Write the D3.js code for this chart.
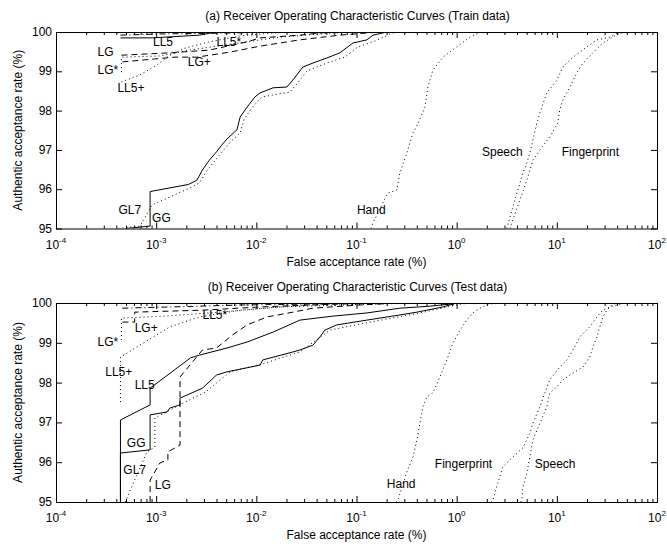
<!DOCTYPE html>
<html>
<head>
<meta charset="utf-8">
<script src="https://cdn.jsdelivr.net/npm/d3@7"></script>
<style>
body { margin: 0; background: #fff; }
svg { display: block; font-family: "Liberation Sans", Arial, Helvetica, sans-serif; }
</style>
</head>
<body>
<svg id="chart" width="667" height="547"></svg>
<script>

// axis ticks
var xTicks = [1e-4, 1e-3, 1e-2, 1e-1, 1, 10, 100];
var yTicks = [95, 96, 97, 98, 99, 100];

// (a) train data, [false acceptance %, authentic acceptance %]
var trainLG = [[4.5e-4,99.41],[1.37e-3,99.47],[3.4e-3,99.54],[8.1e-3,99.75],[0.0109,99.85],[0.0272,99.92],[0.0543,100]];
var trainLGstar = [[4.5e-4,98.98],[4.5e-4,99.36],[1.09e-3,99.39],[2.17e-3,99.54],[5.5e-3,99.69],[0.0172,99.87],[0.0543,99.97],[0.108,100]];
var trainLGplus = [[4.6e-4,99.24],[1.54e-3,99.36],[2.55e-3,99.36],[5.5e-3,99.49],[0.0109,99.64],[0.0272,99.80],[0.0682,99.92],[0.171,100]];
var trainLL5 = [[4.4e-4,99.85],[9.1e-4,99.85],[2.7e-3,99.92],[4.0e-3,100]];
var trainLL5plus = [[4.5e-4,98.73],[6.9e-4,98.91],[1.02e-3,99.16],[1.37e-3,99.41],[1.94e-3,99.59],[3.4e-3,99.75],[6.9e-3,99.90],[0.0137,99.97],[0.0216,100]];
var trainLL5star = [[4.4e-4,99.92],[1.09e-3,99.95],[4.3e-3,99.97],[0.0172,100]];
var trainGG = [[4.9e-4,95.0],[8.7e-4,95.06],[8.7e-4,95.94],[2.1e-3,96.12],[2.55e-3,96.23],[2.9e-3,96.49],[3.4e-3,96.74],[4.0e-3,96.95],[4.5e-3,97.12],[5.1e-3,97.28],[6.4e-3,97.51],[6.9e-3,97.84],[8.1e-3,98.09],[9.7e-3,98.35],[0.0109,98.45],[0.0147,98.58],[0.0202,98.60],[0.0232,98.78],[0.0292,99.11],[0.0367,99.21],[0.0507,99.34],[0.0682,99.47],[0.092,99.72],[0.127,99.80],[0.146,99.92],[0.201,100]];
var trainGL7 = [[4.2e-4,95.0],[6.9e-4,95.06],[9.1e-4,95.6],[2.17e-3,96.03],[2.7e-3,96.16],[3.1e-3,96.41],[3.7e-3,96.67],[4.3e-3,96.87],[5.5e-3,97.20],[6.9e-3,97.43],[7.5e-3,97.76],[9.0e-3,98.07],[0.0114,98.35],[0.0216,98.47],[0.0254,98.68],[0.032,99.01],[0.0543,99.24],[0.0766,99.36],[0.103,99.62],[0.153,99.77],[0.225,99.97],[0.271,100]];
var trainHand = [[0.139,95.0],[0.146,95.14],[0.183,95.65],[0.206,95.90],[0.253,95.98],[0.271,96.41],[0.318,96.92],[0.366,97.43],[0.41,97.66],[0.482,98.09],[0.516,98.60],[0.579,99.03],[0.728,99.36],[1.0,99.62],[1.36,99.87],[1.71,100]];
var trainSpeech = [[3.17,95.0],[3.64,95.55],[4.58,96.41],[5.02,96.67],[5.38,96.92],[5.77,97.25],[6.32,97.68],[6.77,97.94],[7.94,98.45],[10.0,98.78],[11.5,99.11],[14.5,99.36],[19.9,99.62],[25.1,99.80],[33.8,99.87],[39.7,99.97],[47.8,100]];
var trainFinger = [[3.40,95.0],[4.28,95.73],[5.02,96.23],[5.77,96.74],[6.77,97.0],[8.51,97.33],[10.2,97.68],[10.7,98.02],[11.5,98.27],[13.5,98.60],[15.8,98.96],[18.2,99.21],[22.9,99.47],[28.8,99.72],[36.2,99.87],[42.6,99.97],[53.6,100]];

// (b) test data
var testLG = [[8.7e-4,95.0],[8.7e-4,95.55],[1.09e-3,95.98],[1.31e-3,96.06],[1.31e-3,96.26],[1.73e-3,96.43],[1.73e-3,98.14],[2.9e-3,98.82],[4.0e-3,98.87],[5.8e-3,99.20],[8.1e-3,99.45],[0.0128,99.65],[0.0232,99.77],[0.0367,99.87],[0.108,99.95],[0.271,100]];
var testLGstar = [[4.5e-4,99.07],[4.5e-4,99.62],[1.22e-3,99.67],[4.3e-3,99.77],[0.0172,99.90],[0.0682,99.95],[0.43,100]];
var testLGplus = [[4.6e-4,99.52],[6.1e-4,99.52],[6.1e-4,99.77],[2.9e-3,99.82],[0.0109,99.90],[0.0543,99.97],[0.171,100]];
var testLL5 = [[4.4e-4,95.0],[4.4e-4,97.06],[8.7e-4,97.44],[8.7e-4,97.86],[2.2e-3,98.62],[2.7e-3,98.69],[5.1e-3,98.87],[8.1e-3,99.02],[0.0147,99.27],[0.0272,99.57],[0.0581,99.67],[0.127,99.75],[0.271,99.87],[0.541,99.92],[1.08,100]];
var testLL5plus = [[4.4e-4,97.51],[4.4e-4,98.64],[7.4e-4,98.99],[1.37e-3,99.40],[2.7e-3,99.65],[6.9e-3,99.82],[0.0216,99.92],[0.0543,99.97],[0.171,100]];
var testLL5star = [[4.6e-4,99.87],[2.7e-3,99.92],[6.9e-3,99.95],[0.0272,99.97],[0.0682,100]];
var testGG = [[4.4e-4,95.0],[4.4e-4,96.23],[8.7e-4,96.31],[8.7e-4,97.19],[1.28e-3,97.26],[1.37e-3,97.36],[1.73e-3,97.44],[1.73e-3,97.61],[2.9e-3,97.86],[4.0e-3,98.19],[5.1e-3,98.27],[0.0109,98.44],[0.0116,98.57],[0.0232,98.77],[0.0272,98.82],[0.0367,98.94],[0.0432,99.15],[0.0484,99.32],[0.0637,99.45],[0.127,99.57],[0.271,99.70],[0.401,99.77],[0.728,99.90],[1.0,100]];
var testGL7 = [[4.9e-4,95.0],[6.1e-4,95.55],[8.1e-4,96.26],[9.7e-4,96.38],[9.7e-4,97.11],[1.94e-3,97.51],[3.1e-3,97.76],[5.5e-3,98.27],[0.0122,98.49],[0.0272,98.77],[0.0543,99.32],[0.136,99.52],[0.43,99.75],[1.08,99.97],[1.36,100]];
var testHand = [[0.247,95.0],[0.259,95.05],[0.318,95.75],[0.366,96.13],[0.401,96.56],[0.43,96.98],[0.46,97.39],[0.505,97.64],[0.578,97.74],[0.679,98.14],[0.798,98.57],[0.916,98.99],[1.08,99.32],[1.26,99.57],[1.45,99.75],[1.71,99.87],[2.0,99.95],[2.4,100]];
var testFinger = [[2.19,95.0],[2.30,95.05],[2.58,95.48],[2.89,95.88],[3.64,96.13],[4.58,96.36],[5.38,96.73],[5.77,96.98],[6.77,97.39],[7.59,97.74],[8.51,98.07],[10.7,98.39],[12.6,98.57],[14.5,98.82],[17.0,99.15],[21.3,99.40],[25.1,99.65],[28.8,99.82],[33.8,99.90],[39.7,99.95],[47.8,100]];
var testSpeech = [[4.38,95.0],[4.48,95.05],[4.58,95.38],[5.02,95.73],[5.38,96.13],[5.77,96.56],[6.77,96.98],[7.94,97.39],[8.51,97.74],[10.0,97.89],[11.5,98.07],[14.5,98.24],[18.2,98.39],[21.3,98.64],[22.9,98.89],[25.1,99.15],[26.9,99.40],[28.8,99.65],[31.6,99.82],[35.4,99.95],[39.7,100]];

// curve labels, placed at data coordinates
var trainLabels = [["LG",2.6e-4,99.39],["LG*",2.6e-4,98.93],["LL5+",4.1e-4,98.47],["LL5",9.3e-4,99.64],["LL5*",4.0e-3,99.64],
    ["LG+",2.07e-3,99.13],["GL7",4.2e-4,95.37],["GG",9.1e-4,95.17],["Hand",0.101,95.37],["Speech",1.79,96.84],["Fingerprint",11.2,96.84]];
var testLabels = [["LG*",2.6e-4,98.92],["LG+",6.1e-4,99.27],["LL5*",2.9e-3,99.60],["LL5+",3.1e-4,98.17],["LL5",6.1e-4,97.84],
    ["GG",5.1e-4,96.38],["GL7",4.7e-4,95.70],["LG",9.7e-4,95.33],["Hand",0.201,95.35],["Fingerprint",0.605,95.85],["Speech",6.03,95.85]];

var dashes = { solid: null, dotted: "1,3", dashed: "6,4", dashdot: "6,3,1,3" };

var svg = d3.select("#chart");
var left = 56, right = 657;
var x = d3.scaleLog().domain([1e-4, 1e2]).range([left, right]);

var minorTicks = [];
xTicks.slice(0, -1).forEach(function(t) {
    for (var k = 2; k < 10; k++) minorTicks.push(t * k);
});

function drawPanel(id, top, bottom, title, curves, labels) {
    var y = d3.scaleLinear().domain([95, 100]).range([bottom, top]);
    var g = svg.append("g");

    g.append("clipPath").attr("id", id)
        .append("rect")
            .attr("x", left).attr("y", top)
            .attr("width", right - left).attr("height", bottom - top);

    var line = d3.line()
        .x(function(d) { return x(d[0]); })
        .y(function(d) { return y(d[1]); });

    g.append("g").attr("clip-path", "url(#" + id + ")")
        .selectAll("path").data(curves).enter().append("path")
            .attr("d", function(d) { return line(d.values); })
            .attr("fill", "none")
            .attr("stroke", "#000")
            .attr("stroke-width", 1)
            .attr("stroke-dasharray", function(d) { return dashes[d.style]; });

    // ticks on all four sides, pointing inwards
    function ticks(axis, tr) {
        g.append("g").attr("transform", tr).call(axis)
            .call(function(s) { s.select(".domain").remove(); s.selectAll("text").remove(); })
            .selectAll("line").attr("stroke", "#000");
    }
    ticks(d3.axisBottom(x).tickValues(xTicks).tickSize(-6), "translate(0," + bottom + ")");
    ticks(d3.axisBottom(x).tickValues(minorTicks).tickSize(-3), "translate(0," + bottom + ")");
    ticks(d3.axisTop(x).tickValues(xTicks).tickSize(-6), "translate(0," + top + ")");
    ticks(d3.axisTop(x).tickValues(minorTicks).tickSize(-3), "translate(0," + top + ")");
    ticks(d3.axisLeft(y).tickValues(yTicks).tickSize(-6), "translate(" + left + ",0)");
    ticks(d3.axisRight(y).tickValues(yTicks).tickSize(-6), "translate(" + right + ",0)");

    g.append("rect")
        .attr("x", left + 0.5).attr("y", top + 0.5)
        .attr("width", right - left).attr("height", bottom - top)
        .attr("fill", "none").attr("stroke", "#000");

    // tick labels
    var xl = g.append("g").selectAll("text").data(xTicks).enter().append("text")
        .attr("x", function(d) { return x(d); })
        .attr("y", bottom + 20)
        .attr("text-anchor", "middle")
        .attr("font-size", 12);
    xl.append("tspan").text("10");
    xl.append("tspan").attr("dy", -6).attr("font-size", 8)
        .text(function(d) { return Math.round(Math.log10(d)); });

    g.append("g").selectAll("text").data(yTicks).enter().append("text")
        .attr("x", left - 4)
        .attr("y", function(d) { return y(d) + 4; })
        .attr("text-anchor", "end")
        .attr("font-size", 12)
        .text(function(d) { return d; });

    g.append("text")
        .attr("x", (left + right) / 2 + 1).attr("y", top - 12)
        .attr("text-anchor", "middle").attr("font-size", 12)
        .text(title);
    g.append("text")
        .attr("x", (left + right) / 2).attr("y", bottom + 37)
        .attr("text-anchor", "middle").attr("font-size", 12)
        .text("False acceptance rate (%)");
    g.append("text")
        .attr("transform", "translate(22," + (top + bottom) / 2 + ") rotate(-90)")
        .attr("text-anchor", "middle").attr("font-size", 12)
        .text("Authentic acceptance rate (%)");

    g.append("g").selectAll("text").data(labels).enter().append("text")
        .attr("x", function(d) { return x(d[1]); })
        .attr("y", function(d) { return y(d[2]); })
        .attr("font-size", 12)
        .text(function(d) { return d[0]; });
}

drawPanel("clipA", 32, 228.5, "(a) Receiver Operating Characteristic Curves (Train data)", [
    { values: trainLG, style: "dashed" },
    { values: trainLGstar, style: "dotted" },
    { values: trainLGplus, style: "dashed" },
    { values: trainLL5, style: "solid" },
    { values: trainLL5plus, style: "dotted" },
    { values: trainLL5star, style: "dashdot" },
    { values: trainGG, style: "solid" },
    { values: trainGL7, style: "dotted" },
    { values: trainHand, style: "dotted" },
    { values: trainSpeech, style: "dotted" },
    { values: trainFinger, style: "dotted" }
], trainLabels);

drawPanel("clipB", 303, 502, "(b) Receiver Operating Characteristic Curves (Test data)", [
    { values: testLG, style: "dashed" },
    { values: testLGstar, style: "dotted" },
    { values: testLGplus, style: "dashed" },
    { values: testLL5, style: "solid" },
    { values: testLL5plus, style: "dotted" },
    { values: testLL5star, style: "dashdot" },
    { values: testGG, style: "solid" },
    { values: testGL7, style: "dotted" },
    { values: testHand, style: "dotted" },
    { values: testSpeech, style: "dotted" },
    { values: testFinger, style: "dotted" }
], testLabels);

</script>
</body>
</html>
